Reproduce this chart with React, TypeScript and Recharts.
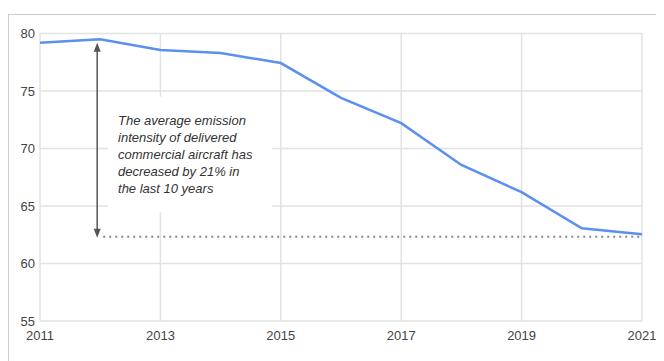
import React from 'react';
import { LineChart, Line, XAxis, YAxis, CartesianGrid, ReferenceLine, ReferenceArea } from 'recharts';

// emission intensity of delivered aircraft, per year
const years = [2011, 2012, 2013, 2014, 2015, 2016, 2017, 2018, 2019, 2020, 2021];
const intensity = [79.2, 79.5, 78.57, 78.3, 77.43, 74.4, 72.2, 68.57, 66.2, 63.06, 62.54];

const xTicks = [2011, 2013, 2015, 2017, 2019, 2021];
const yTicks = [55, 60, 65, 70, 75, 80];

const noteLines = [
  'The average emission',
  'intensity of delivered',
  'commercial aircraft has',
  'decreased by 21% in',
  'the last 10 years',
];

// arrow + dotted baseline
const arrowYear = 2011.95;
const arrowTop = 79.2;
const baseline = 62.33;

// note box extent (in data units)
const noteBox = { x1: 2012.13, x2: 2014.86, y1: 64.5, y2: 74.5 };

const data = years.map((year, i) => ({ year, value: intensity[i] }));

const FONT = '"Liberation Sans", Arial, sans-serif';

const NoteShape = (props: any) => {
  const { x, y, width, height } = props;
  return (
    <g>
      <rect x={x} y={y} width={width} height={height} fill="#fff" />
      {noteLines.map((t, i) => (
        <text
          key={i}
          x={x + 10}
          y={y + 23.5 + i * 17}
          dy="0.35em"
          fontFamily={FONT}
          fontSize={13}
          fontStyle="italic"
          fill="#333"
        >
          {t}
        </text>
      ))}
    </g>
  );
};

const ArrowShape = (props: any) => {
  const { x1, y1, y2 } = props;
  const top = Math.min(y1, y2);
  const bot = Math.max(y1, y2);
  return (
    <g>
      <line x1={x1} x2={x1} y1={top + 6} y2={bot - 6} stroke="#555" strokeWidth={1.5} />
      <polygon points={`${x1},${top} ${x1 - 3.5},${top + 9} ${x1 + 3.5},${top + 9}`} fill="#555" />
      <polygon points={`${x1},${bot} ${x1 - 3.5},${bot - 9} ${x1 + 3.5},${bot - 9}`} fill="#555" />
    </g>
  );
};

export default function App() {
  return (
    <div style={{ position: 'relative', width: 656, height: 353 }}>
      <div
        style={{
          position: 'absolute',
          top: 6,
          left: 0,
          right: 0,
          bottom: 0,
          borderTop: '1px solid #cccccc',
          borderLeft: '1px solid #cccccc',
        }}
      />
      <LineChart
        width={656}
        height={353}
        data={data}
        margin={{ top: 25.5, right: 22, left: 0, bottom: 0 }}
        style={{ position: 'absolute', top: 0, left: 0 }}
      >
        <CartesianGrid stroke="#e2e2e2" strokeWidth={1.5} />
        <XAxis
          dataKey="year"
          type="number"
          domain={[2011, 2021]}
          ticks={xTicks}
          axisLine={false}
          tickLine={false}
          tickSize={0}
          tickMargin={10}
          height={40}
          tick={{ fontFamily: FONT, fontSize: 13, fill: '#444' }}
        />
        <YAxis
          domain={[55, 80]}
          ticks={yTicks}
          axisLine={false}
          tickLine={false}
          tickSize={0}
          tickMargin={5}
          width={32}
          tick={{ fontFamily: FONT, fontSize: 13, fill: '#444' }}
        />
        <ReferenceArea
          x1={noteBox.x1}
          x2={noteBox.x2}
          y1={noteBox.y1}
          y2={noteBox.y2}
          shape={<NoteShape />}
        />
        <ReferenceLine
          segment={[
            { x: arrowYear + 0.1, y: baseline },
            { x: 2021, y: baseline },
          ]}
          stroke="#888"
          strokeWidth={2}
          strokeDasharray="2 4"
        />
        <ReferenceLine
          segment={[
            { x: arrowYear, y: arrowTop },
            { x: arrowYear, y: baseline - 0.1 },
          ]}
          shape={(p: any) => <ArrowShape {...p} />}
        />
        <Line
          type="linear"
          dataKey="value"
          stroke="#5b8ff2"
          strokeWidth={2.5}
          dot={false}
          activeDot={false}
          isAnimationActive={false}
        />
      </LineChart>
    </div>
  );
}
